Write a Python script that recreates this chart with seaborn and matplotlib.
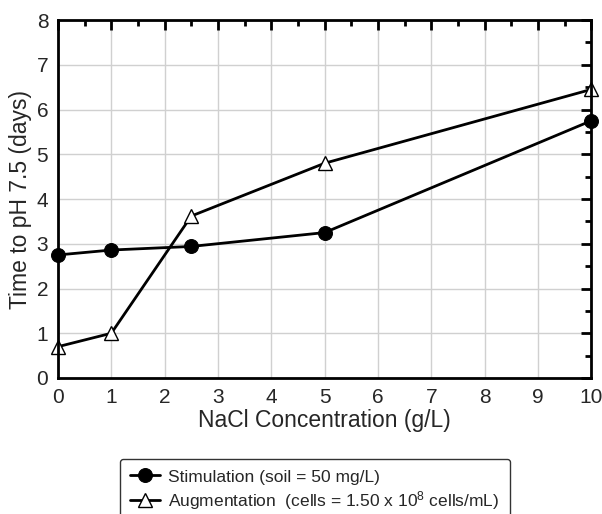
import matplotlib
matplotlib.use("Agg")
import matplotlib.pyplot as plt
import seaborn as sns
from matplotlib.ticker import MultipleLocator

nacl = [0, 1, 2.5, 5, 10]
stimulation = [2.75, 2.86, 2.94, 3.25, 5.75]
augmentation = [0.7, 1.0, 3.62, 4.8, 6.45]

stim_label = "Stimulation (soil = 50 mg/L)"
aug_label = "Augmentation  (cells = 1.50 x 10$^{8}$ cells/mL)"

sns.set_theme(style="whitegrid")
plt.rcParams['font.family'] = ['Liberation Sans', 'DejaVu Sans']
plt.rcParams['mathtext.fontset'] = 'custom'
plt.rcParams['mathtext.rm'] = 'Liberation Sans'
plt.rcParams['mathtext.it'] = 'Liberation Sans'

fig = plt.figure(figsize=(6.02, 5.14), dpi=100)
ax = fig.add_axes([0.0963, 0.2646, 0.886, 0.6964])

sns.lineplot(x=nacl, y=stimulation, ax=ax, color='black', linewidth=2,
             marker='o', markersize=10, markerfacecolor='black',
             markeredgecolor='black', clip_on=False, label=stim_label)
sns.lineplot(x=nacl, y=augmentation, ax=ax, color='black', linewidth=2,
             marker='^', markersize=10, markerfacecolor='white',
             markeredgecolor='black', markeredgewidth=1, clip_on=False,
             label=aug_label)

ax.set_xlim(0, 10)
ax.set_ylim(0, 8)
ax.xaxis.set_major_locator(MultipleLocator(1))
ax.xaxis.set_minor_locator(MultipleLocator(0.5))
ax.yaxis.set_major_locator(MultipleLocator(1))
ax.yaxis.set_minor_locator(MultipleLocator(0.5))
ax.set_facecolor('white')
ax.grid(True, which='major', color='#d0d0d0', linewidth=1)
ax.grid(False, which='minor')
for s in ax.spines.values():
    s.set_color('black')
    s.set_linewidth(2)
ax.tick_params(which='both', direction='in', top=True, right=True,
               color='black', labelsize=15, pad=7)
ax.tick_params(which='major', length=7, width=2)
ax.tick_params(which='minor', length=4, width=2)
ax.set_xlabel("NaCl Concentration (g/L)", fontsize=16.5, labelpad=2)
ax.set_ylabel("Time to pH 7.5 (days)", fontsize=16.5, labelpad=3)

ax.legend_.remove()
handles, labels = ax.get_legend_handles_labels()
leg = fig.legend(handles, labels, loc='upper center',
                 bbox_to_anchor=(0.523, 0.124), fontsize=12.5,
                 frameon=True, fancybox=True, edgecolor='black',
                 handlelength=1.7, handletextpad=0.5, borderpad=0.6,
                 labelspacing=0.25)
leg.get_frame().set_linewidth(1)

fig.savefig("out.png", dpi=100, facecolor='white')
